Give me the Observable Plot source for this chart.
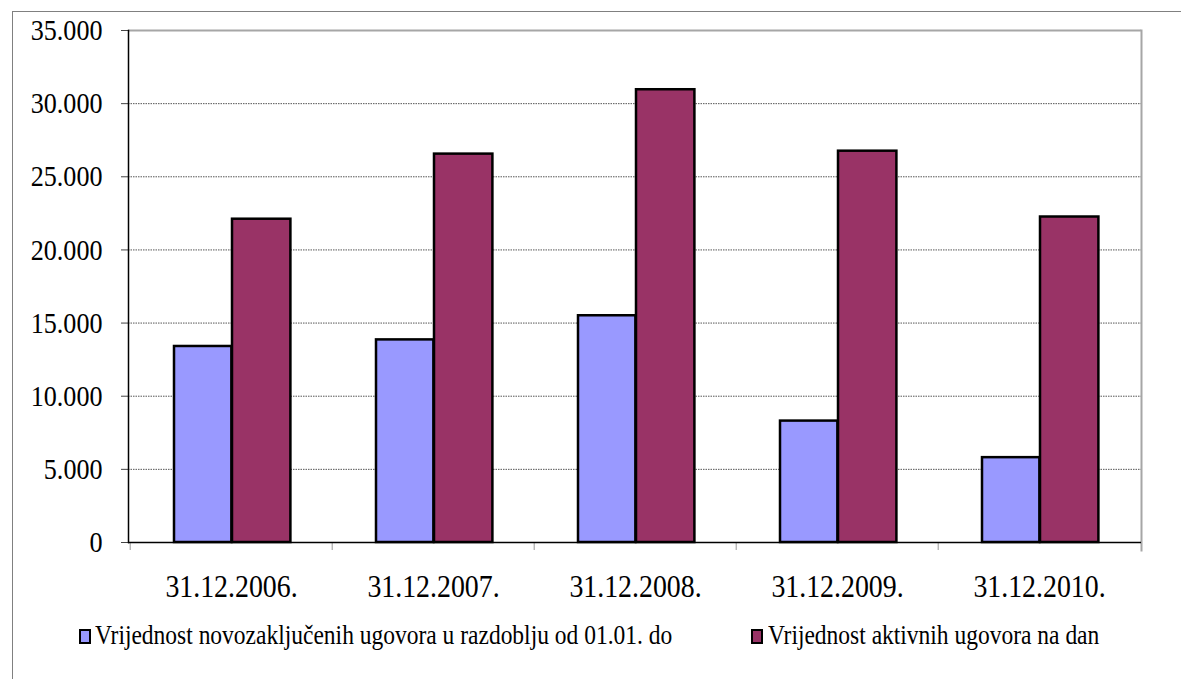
<!DOCTYPE html>
<html>
<head>
<meta charset="utf-8">
<script src="https://cdn.jsdelivr.net/npm/d3@7"></script>
<script src="https://cdn.jsdelivr.net/npm/@observablehq/plot@0.6"></script>
<style>
html, body { margin: 0; padding: 0; overflow: hidden; background: #fff; width: 1181px; height: 679px; }
#border { position: absolute; left: 12px; top: 11px; width: 1400px; height: 900px; border: 1px solid #808080; box-sizing: border-box; }
#chart { position: absolute; left: 0; top: 0; }
#legend { position: absolute; left: 0; top: 0; width: 1181px; height: 679px; font-family: "Liberation Serif", serif; font-size: 27px; color: #000; }
.swatch { position: absolute; width: 12px; height: 15px; border: 2px solid #000; box-sizing: border-box; }
.label { position: absolute; line-height: 27px; white-space: nowrap; transform: scaleX(0.87); transform-origin: left center; }
</style>
</head>
<body>
<div id="border"></div>
<div id="chart"></div>
<div id="legend"></div>
<script>
const dates = ["31.12.2006.", "31.12.2007.", "31.12.2008.", "31.12.2009.", "31.12.2010."];
const newContracts = [13400, 13850, 15500, 8300, 5800];
const activeContracts = [22100, 26550, 30950, 26750, 22250];
const yTicks = [0, 5000, 10000, 15000, 20000, 25000, 30000, 35000];
const seriesNames = [
  "Vrijednost novozaključenih ugovora u razdoblju od 01.01. do",
  "Vrijednost aktivnih ugovora na dan"
];
const seriesColors = ["#9999ff", "#993366"];

const fmt = d3.formatLocale({decimal: ",", thousands: ".", grouping: [3], currency: ["", ""]}).format(",");

const chart = Plot.plot({
  width: 1181,
  height: 615,
  marginLeft: 128,
  marginRight: 40,
  marginTop: 30,
  marginBottom: 73,
  style: {fontFamily: "Liberation Serif", color: "#000", background: "transparent", overflow: "visible"},
  x: {domain: dates, padding: 0, label: null},
  y: {domain: [0, 35000], label: null},
  marks: [
    Plot.gridY(yTicks.filter(d => d > 0 && d < 35000), {stroke: "#555", strokeOpacity: 1, strokeDasharray: "1.5,1"}),
    Plot.ruleY([35000], {stroke: "#a6a6a6", strokeWidth: 2}),
    Plot.frame({anchor: "right", stroke: "#a6a6a6", strokeWidth: 2, insetBottom: -8}),
    Plot.axisX({tickSize: 8, tickFormat: () => "", dx: -101.3, stroke: "#999", label: null}),
    Plot.axisX({tickSize: 0, tickPadding: 32, fontSize: 32, label: null}),
    Plot.axisY({ticks: yTicks, tickSize: 7, tickPadding: 19, tickFormat: fmt, fontSize: 30, stroke: "#444", label: null}),
    Plot.barY(dates, {x: d => d, y: (d, i) => newContracts[i], fill: seriesColors[0], stroke: "#000", strokeWidth: 2.5, insetLeft: 44, insetRight: 100.6}),
    Plot.barY(dates, {x: d => d, y: (d, i) => activeContracts[i], fill: seriesColors[1], stroke: "#000", strokeWidth: 2.5, insetLeft: 102, insetRight: 41.6}),
    Plot.frame({anchor: "left", stroke: "#000", strokeWidth: 1.5}),
    Plot.ruleY([0], {stroke: "#000", strokeWidth: 1.5})
  ]
});
document.getElementById("chart").appendChild(chart);

// condense text glyphs horizontally like the reference
chart.querySelectorAll("text").forEach(t => {
  const w = t.getComputedTextLength();
  if (w > 0) {
    t.setAttribute("textLength", (w * 0.87).toFixed(1));
    t.setAttribute("lengthAdjust", "spacingAndGlyphs");
  }
});

// legend
const legend = document.getElementById("legend");
const legendPos = [{sx: 79, tx: 95}, {sx: 751, tx: 768}];
seriesNames.forEach((name, i) => {
  const sw = document.createElement("div");
  sw.className = "swatch";
  sw.style.left = legendPos[i].sx + "px";
  sw.style.top = "629px";
  sw.style.background = seriesColors[i];
  legend.appendChild(sw);
  const lb = document.createElement("div");
  lb.className = "label";
  lb.style.left = legendPos[i].tx + "px";
  lb.style.top = "622px";
  lb.textContent = name;
  legend.appendChild(lb);
});
</script>
</body>
</html>
